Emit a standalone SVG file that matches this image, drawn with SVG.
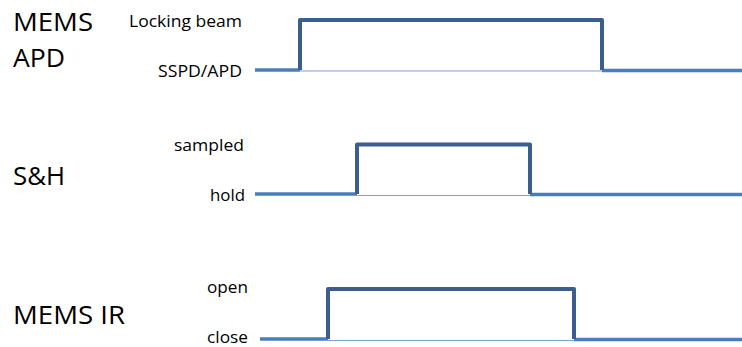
<svg xmlns="http://www.w3.org/2000/svg" width="742" height="347" viewBox="0 0 742 347">
<style>
.big{font-family:"Open Sans","Noto Sans",sans-serif;font-size:25.5px;fill:#000}
.lbl{font-family:"Open Sans","Noto Sans",sans-serif;font-size:17px;fill:#000;text-anchor:end}
.pulse{fill:none;stroke:#3B5E8F;stroke-width:4;stroke-linejoin:round}
.base{fill:none;stroke:#4A7EBB;stroke-width:3.5}
.thin{fill:none;stroke:#7EA2CF;stroke-width:1.2}
</style>
<rect width="742" height="347" fill="#fff"/>
<g id="row-mems-apd">
<text class="big" x="13" y="31" textLength="80" lengthAdjust="spacingAndGlyphs">MEMS</text>
<text class="big" x="13" y="67" textLength="52" lengthAdjust="spacingAndGlyphs">APD</text>
<text class="lbl" x="242" y="27" textLength="113" lengthAdjust="spacingAndGlyphs">Locking beam</text>
<text class="lbl" x="242" y="77" textLength="84" lengthAdjust="spacingAndGlyphs">SSPD/APD</text>
<line class="thin" x1="300" y1="71" x2="602" y2="71"/>
<line class="base" x1="255" y1="70" x2="300" y2="70"/>
<line class="base" x1="602" y1="70.5" x2="742" y2="70.5"/>
<polyline class="pulse" points="300,70 300,20 602,20 602,70"/>
</g>
<g id="row-sh">
<text class="big" x="13" y="185" textLength="52" lengthAdjust="spacingAndGlyphs">S&amp;H</text>
<text class="lbl" x="244" y="151" textLength="70" lengthAdjust="spacingAndGlyphs">sampled</text>
<text class="lbl" x="245" y="201" textLength="35" lengthAdjust="spacingAndGlyphs">hold</text>
<line class="thin" x1="357" y1="195.5" x2="530" y2="195.5"/>
<line class="base" x1="255" y1="194" x2="357" y2="194"/>
<line class="base" x1="530" y1="194.5" x2="742" y2="194.5"/>
<polyline class="pulse" points="357,194 357,144.5 530,144.5 530,194"/>
</g>
<g id="row-mems-ir">
<text class="big" x="13" y="324" textLength="112" lengthAdjust="spacingAndGlyphs">MEMS IR</text>
<text class="lbl" x="248" y="293" textLength="41" lengthAdjust="spacingAndGlyphs">open</text>
<text class="lbl" x="248" y="343" textLength="41" lengthAdjust="spacingAndGlyphs">close</text>
<line class="thin" x1="328" y1="340.5" x2="574" y2="340.5"/>
<line class="base" x1="260" y1="339" x2="328" y2="339"/>
<line class="base" x1="574" y1="339.5" x2="742" y2="339.5"/>
<polyline class="pulse" points="328,339 328,289 574,289 574,339"/>
</g>
</svg>
